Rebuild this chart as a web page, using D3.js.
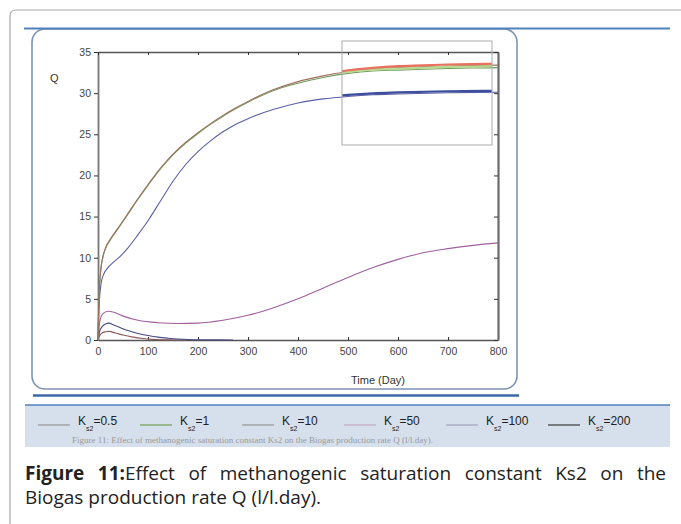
<!DOCTYPE html>
<html>
<head>
<meta charset="utf-8">
<script src="https://cdn.jsdelivr.net/npm/d3@7"></script>
<style>
body { margin:0; background:#fff; }
.cap { position:absolute; left:25px; width:641px; font-family:"Open Sans", "Noto Sans", sans-serif; font-size:19px; line-height:20px; color:#222; white-space:nowrap; }
#cap1 { top:463px; text-align:justify; text-align-last:justify; }
#cap2 { top:487px; text-align:left; }
#cap1 b { font-weight:700; }
</style>
</head>
<body>
<svg id="chart" width="681" height="524"></svg>
<div class="cap" id="cap1"><b>Figure 11:</b>Effect of methanogenic saturation constant Ks2 on the</div>
<div class="cap" id="cap2">Biogas production rate Q (l/l.day).</div>
<script>
// ---- data ----
let ks2Values = ["0.5", "1", "10", "50", "100", "200"];
let curveColors = ["#a07060", "#6f9a5c", "#5a5fa6", "#a0609e", "#4a4a80", "#8a5a5a"];
let boxColors = ["#e8705e", "#b8d890", "#3c4f9c"];
let legendColors = ["#9a9a9a", "#76a35a", "#9a9a9a", "#c6aec4", "#a4a8c6", "#444"];

let t_05 = [0,1,3,6,10,15,25,40,60,80,100,125,150,175,200,225,250,275,300,350,400,450,500,550,600,650,700,750,800];
let q_05 = [0,3,6.5,8.8,10.2,11.2,12.3,13.6,15.4,17.2,18.9,20.9,22.6,24.0,25.2,26.3,27.3,28.2,29.0,30.4,31.4,32.1,32.6,32.9,33.1,33.2,33.3,33.35,33.4];
let q_1  = [0,3,6.4,8.7,10.1,11.1,12.2,13.5,15.3,17.1,18.8,20.8,22.5,23.9,25.1,26.2,27.2,28.1,28.9,30.3,31.2,31.9,32.4,32.7,32.8,32.9,33.0,33.05,33.1];
let t_10 = [0,1,3,6,10,20,30,45,60,80,100,125,150,175,200,225,250,275,300,350,400,450,500,550,600,700,800];
let q_10 = [0,2.5,5,6.8,7.8,8.8,9.4,10.2,11.2,12.8,14.5,16.9,19.3,21.3,22.9,24.2,25.3,26.2,26.9,28.0,28.8,29.3,29.6,29.8,29.9,30.05,30.1];
let t_50 = [0,3,6,10,20,30,50,80,120,160,200,250,300,350,400,450,500,550,600,650,700,750,800];
let q_50 = [0,2.0,2.8,3.2,3.5,3.4,2.9,2.4,2.1,2.0,2.05,2.4,3.0,3.9,5.0,6.3,7.6,8.8,9.8,10.6,11.1,11.5,11.8];
let t_100 = [0,3,8,15,22,30,45,60,80,100,120,140,160,180,220,270];
let q_100 = [0,1.0,1.6,1.95,2.05,1.85,1.5,1.15,0.8,0.55,0.35,0.22,0.12,0.06,0.02,0];
let t_200 = [0,3,8,15,22,35,50,70,90,110,140,180];
let q_200 = [0,0.5,0.85,1.0,1.05,0.85,0.6,0.35,0.18,0.08,0.02,0];

let series = [
	{t:t_05, q:q_05},
	{t:t_05, q:q_1},
	{t:t_10, q:q_10},
	{t:t_50, q:q_50},
	{t:t_100, q:q_100},
	{t:t_200, q:q_200}
];
let xTicks = [0,100,200,300,400,500,600,700,800];
let yTicks = [0,5,10,15,20,25,30,35];

// ---- drawing ----
let svg = d3.select("#chart");

// outer card
svg.append("path")
	.attr("d", "M10,524 L10,16 Q10,10 16,10 L681,10")
	.attr("fill","none").attr("stroke","#a8a8a8").attr("stroke-width",1.2);

// chart frame (rounded)
svg.append("rect")
	.attr("x",32).attr("y",29).attr("width",485).attr("height",360)
	.attr("rx",13).attr("ry",13)
	.attr("fill","#fff").attr("stroke","#7d93b4").attr("stroke-width",1.6);

svg.append("line").attr("x1",24).attr("x2",670).attr("y1",28.5).attr("y2",28.5)
	.attr("stroke","#4f81bd").attr("stroke-width",2);
svg.append("line").attr("x1",33).attr("x2",519).attr("y1",395.5).attr("y2",395.5)
	.attr("stroke","#3b6aa5").attr("stroke-width",2.5);

let x = d3.scaleLinear().domain([0,800]).range([98,498]);
let y = d3.scaleLinear().domain([0,35]).range([340,52]);

let tickFont = "Liberation Sans, Arial, sans-serif";

let gL = svg.append("g").attr("transform","translate(98,0)")
	.call(d3.axisLeft(y).tickValues(yTicks).tickSize(4).tickPadding(3).tickSizeOuter(0));
let gB = svg.append("g").attr("transform","translate(0,340)")
	.call(d3.axisBottom(x).tickValues(xTicks).tickSize(-3).tickPadding(8).tickSizeOuter(0));
let gT = svg.append("g").attr("transform","translate(0,52)")
	.call(d3.axisTop(x).tickValues(xTicks).tickSize(-3).tickFormat("").tickSizeOuter(0));
let gR = svg.append("g").attr("transform","translate(498,0)")
	.call(d3.axisRight(y).tickValues(yTicks).tickSize(-4).tickFormat("").tickSizeOuter(0));

[gL,gB,gT,gR].forEach(function(g){
	g.select(".domain").attr("stroke","#555").attr("stroke-width",1.4);
	g.selectAll(".tick line").attr("stroke","#333");
	g.selectAll("text").attr("fill","#444").style("font-family",tickFont).style("font-size","10.5px");
});
gR.select(".domain").attr("stroke","#6a6a6a").attr("stroke-width",2.2);
gL.select(".domain").attr("stroke","#777").attr("stroke-width",1.8);

svg.append("text").attr("x",50).attr("y",82).text("Q")
	.style("font-family",tickFont).style("font-size","11px").attr("fill","#333");
svg.append("text").attr("x",378).attr("y",384).attr("text-anchor","middle").text("Time (Day)")
	.style("font-family",tickFont).style("font-size","11px").attr("fill","#333");

let line = d3.line()
	.x(function(d){ return x(d[0]); })
	.y(function(d){ return y(d[1]); })
	.curve(d3.curveMonotoneX);

function pts(s){ return s.t.map(function(t,i){ return [t, s.q[i]]; }); }

// draw lower curves first, top ones last
let order = [5,4,3,2,1,0];
let gC = svg.append("g");
order.forEach(function(i){
	gC.append("path").attr("d", line(pts(series[i])))
		.attr("fill","none").attr("stroke", curveColors[i]).attr("stroke-width",1.1);
});

// magnifier box: same curves drawn thicker inside it
let box = {x0:342, y0:41, x1:492, y1:145};
svg.append("clipPath").attr("id","boxclip").append("rect")
	.attr("x",box.x0).attr("y",box.y0).attr("width",box.x1-box.x0).attr("height",box.y1-box.y0);
let gZ = svg.append("g").attr("clip-path","url(#boxclip)");
let gZi = gZ.append("g").attr("transform","translate(0,-1.5)");
[2,1,0].forEach(function(i){
	gZi.append("path").attr("d", line(pts(series[i])))
		.attr("fill","none").attr("stroke", boxColors[i]).attr("stroke-width", 2.2);
});
svg.append("rect").attr("x",box.x0).attr("y",box.y0).attr("width",box.x1-box.x0).attr("height",box.y1-box.y0)
	.attr("fill","none").attr("stroke","#aaa").attr("stroke-width",1);

// legend band
svg.append("rect").attr("x",25).attr("y",405).attr("width",645).attr("height",42).attr("fill","#d6e0ec");
svg.append("line").attr("x1",25).attr("x2",670).attr("y1",405).attr("y2",405)
	.attr("stroke","#4f81bd").attr("stroke-width",1.5);

let lx = d3.scaleBand().domain(ks2Values).range([38,650]);
let lg = svg.selectAll("g.leg").data(ks2Values).enter().append("g").attr("class","leg")
	.attr("transform", function(d){ return "translate(" + lx(d) + ",425)"; });
lg.append("line").attr("x1",0).attr("x2",32).attr("y1",0).attr("y2",0)
	.attr("stroke", function(d,i){ return legendColors[i]; }).attr("stroke-width",1.3);
let lt = lg.append("text").attr("x",40).attr("y",0)
	.style("font-family",tickFont).style("font-size","12px").attr("fill","#222");
lt.append("tspan").text("K");
lt.append("tspan").attr("dy",6).style("font-size","7px").text("s2");
lt.append("tspan").attr("dy",-6).text(function(d){ return "=" + d; });

// faint cut-off caption under the legend
svg.append("clipPath").attr("id","faint").append("rect").attr("x",0).attr("y",436).attr("width",681).attr("height",10);
svg.append("text").attr("x",72).attr("y",443).attr("clip-path","url(#faint)")
	.style("font-family","Liberation Serif, serif").style("font-size","9px").attr("fill","#999")
	.text("Figure 11: Effect of methanogenic saturation constant Ks2 on the Biogas production rate Q (l/l.day).");
</script>
</body>
</html>
